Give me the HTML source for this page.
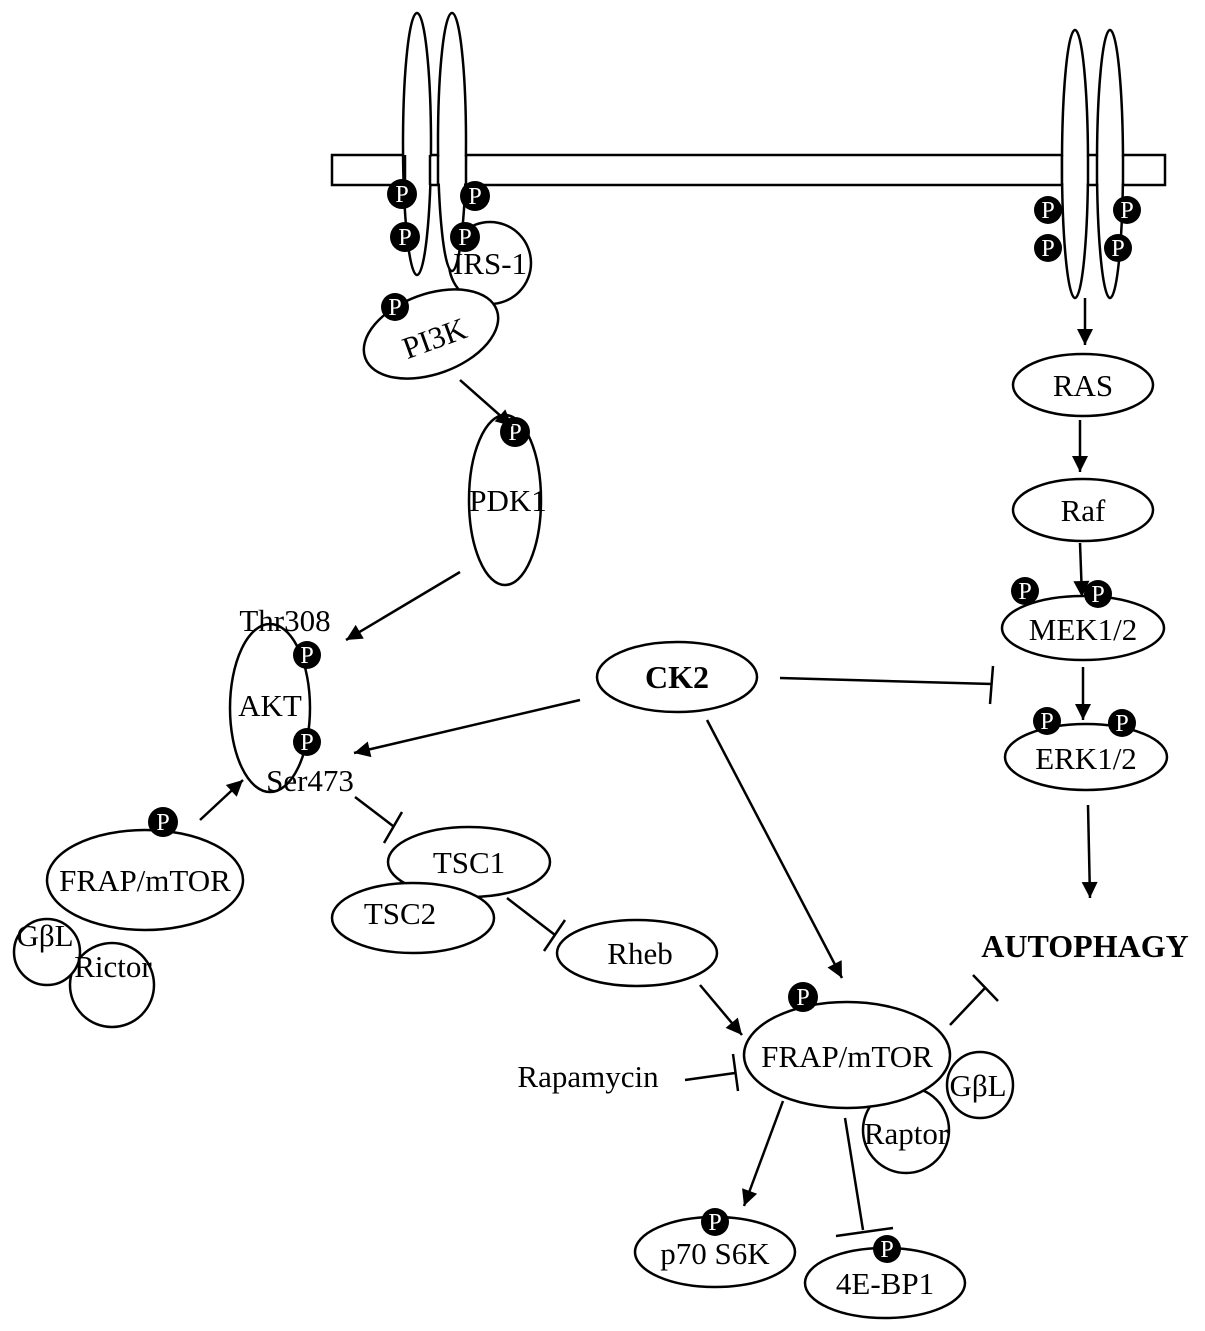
<!DOCTYPE html>
<html><head><meta charset="utf-8"><style>
body{margin:0;background:#fff}
svg{display:block}
text{font-family:"Liberation Serif",serif;font-size:31px;fill:#000;text-anchor:middle}
.b{font-weight:bold;font-size:32px}
.p{fill:#fff;font-size:24px}
</style></head><body>
<svg width="1205" height="1331" viewBox="0 0 1205 1331" xmlns="http://www.w3.org/2000/svg">
<defs>
<marker id="a" viewBox="0 0 10 10" refX="10" refY="5" markerWidth="20" markerHeight="16" orient="auto" markerUnits="userSpaceOnUse">
<path d="M0,0 L10,5 L0,10 z" fill="#000"/></marker>
</defs>
<g fill="#fff" stroke="#000" stroke-width="2.5">
<rect x="332" y="155" width="833" height="30"/>
<ellipse cx="417" cy="144" rx="14" ry="131"/>
<circle cx="490" cy="263" r="41"/>
<ellipse cx="452" cy="142" rx="14" ry="129"/>
<rect x="405" y="156.5" width="60" height="27" stroke="none"/>
<line x1="405" y1="155" x2="405" y2="185"/><line x1="430" y1="155" x2="430" y2="185"/>
<line x1="438" y1="155" x2="438" y2="185"/><line x1="466" y1="155" x2="466" y2="185"/>
<ellipse cx="431" cy="334" rx="70" ry="40" transform="rotate(-20 431 334)"/>
<ellipse cx="505" cy="500" rx="36" ry="85"/>
<ellipse cx="270" cy="708" rx="40" ry="84"/>
<ellipse cx="1075" cy="164" rx="13" ry="134"/>
<ellipse cx="1110" cy="164" rx="13" ry="134"/>
<rect x="1061" y="156.5" width="64" height="27" stroke="none"/>
<line x1="1062" y1="155" x2="1062" y2="185"/><line x1="1088" y1="155" x2="1088" y2="185"/>
<line x1="1097" y1="155" x2="1097" y2="185"/><line x1="1123" y1="155" x2="1123" y2="185"/>
<ellipse cx="1083" cy="385" rx="70" ry="31"/>
<ellipse cx="1083" cy="510" rx="70" ry="31"/>
<ellipse cx="1083" cy="628" rx="81" ry="32"/>
<ellipse cx="1086" cy="757" rx="81" ry="33"/>
<ellipse cx="677" cy="677" rx="80" ry="35"/>
<circle cx="112" cy="985" r="42"/>
<circle cx="47" cy="952" r="33"/>
<ellipse cx="145" cy="880" rx="98" ry="50"/>
<ellipse cx="469" cy="862" rx="81" ry="35"/>
<ellipse cx="413" cy="918" rx="81" ry="35"/>
<ellipse cx="637" cy="953" rx="80" ry="33"/>
<circle cx="906" cy="1130" r="43"/>
<circle cx="980" cy="1085" r="33"/>
<ellipse cx="847" cy="1055" rx="103" ry="53"/>
<ellipse cx="715" cy="1252" rx="80" ry="35"/>
<ellipse cx="885" cy="1283" rx="80" ry="35"/>
</g>
<g fill="#000">
<circle cx="402" cy="194" r="15"/><circle cx="405" cy="237" r="15"/>
<circle cx="475" cy="196" r="15"/><circle cx="465" cy="237" r="15"/>
<circle cx="395" cy="307" r="14"/><circle cx="515" cy="432" r="15"/>
<circle cx="307" cy="655" r="14"/><circle cx="307" cy="742" r="14"/>
<circle cx="163" cy="822" r="15"/>
<circle cx="1048" cy="210" r="14"/><circle cx="1048" cy="248" r="14"/>
<circle cx="1127" cy="210" r="14"/><circle cx="1118" cy="248" r="14"/>
<circle cx="1025" cy="591" r="14"/><circle cx="1098" cy="594" r="14"/>
<circle cx="1047" cy="721" r="14"/><circle cx="1122" cy="723" r="14"/>
<circle cx="803" cy="997" r="15"/>
<circle cx="715" cy="1222" r="14"/><circle cx="887" cy="1249" r="14"/>
</g>
<g>
<text class="p" x="402" y="202">P</text><text class="p" x="405" y="245">P</text>
<text class="p" x="475" y="204">P</text><text class="p" x="465" y="245">P</text>
<text class="p" x="395" y="315">P</text><text class="p" x="515" y="440">P</text>
<text class="p" x="307" y="663">P</text><text class="p" x="307" y="750">P</text>
<text class="p" x="163" y="830">P</text>
<text class="p" x="1048" y="218">P</text><text class="p" x="1048" y="256">P</text>
<text class="p" x="1127" y="218">P</text><text class="p" x="1118" y="256">P</text>
<text class="p" x="1025" y="599">P</text><text class="p" x="1098" y="602">P</text>
<text class="p" x="1047" y="729">P</text><text class="p" x="1122" y="731">P</text>
<text class="p" x="803" y="1005">P</text>
<text class="p" x="715" y="1230">P</text><text class="p" x="887" y="1257">P</text>
</g>
<g stroke="#000" stroke-width="2.5" fill="none">
<line x1="460" y1="380" x2="512" y2="426" marker-end="url(#a)"/>
<line x1="460" y1="572" x2="346" y2="640" marker-end="url(#a)"/>
<line x1="1085" y1="298" x2="1085" y2="345" marker-end="url(#a)"/>
<line x1="1080" y1="420" x2="1080" y2="472" marker-end="url(#a)"/>
<line x1="1080" y1="543" x2="1082" y2="597" marker-end="url(#a)"/>
<line x1="1083" y1="667" x2="1083" y2="720" marker-end="url(#a)"/>
<line x1="1088" y1="805" x2="1090" y2="898" marker-end="url(#a)"/>
<line x1="580" y1="700" x2="354" y2="753" marker-end="url(#a)"/>
<line x1="707" y1="720" x2="842" y2="978" marker-end="url(#a)"/>
<line x1="200" y1="820" x2="243" y2="780" marker-end="url(#a)"/>
<line x1="700" y1="985" x2="742" y2="1035" marker-end="url(#a)"/>
<line x1="783" y1="1101" x2="744" y2="1206" marker-end="url(#a)"/>
<line x1="780" y1="678" x2="992" y2="684"/><line x1="993" y1="666" x2="990" y2="704"/>
<line x1="355" y1="797" x2="393" y2="826"/><line x1="384" y1="843" x2="402" y2="812"/>
<line x1="507" y1="898" x2="555" y2="935"/><line x1="544" y1="951" x2="565" y2="920"/>
<line x1="950" y1="1025" x2="985" y2="988"/><line x1="973" y1="975" x2="998" y2="1001"/>
<line x1="685" y1="1080" x2="735" y2="1073"/><line x1="733" y1="1054" x2="738" y2="1091"/>
<line x1="845" y1="1118" x2="863" y2="1230"/><line x1="836" y1="1236" x2="893" y2="1228"/>
</g>
<text x="490" y="274">IRS-1</text>
<text x="438" y="348" transform="rotate(-20 438 348)">PI3K</text>
<text x="508" y="511">PDK1</text>
<text x="285" y="631">Thr308</text>
<text x="270" y="716">AKT</text>
<text x="310" y="791">Ser473</text>
<text x="1083" y="396">RAS</text>
<text x="1083" y="521">Raf</text>
<text x="1083" y="640">MEK1/2</text>
<text x="1086" y="769">ERK1/2</text>
<text class="b" x="677" y="688">CK2</text>
<text class="b" x="1085" y="957">AUTOPHAGY</text>
<text x="145" y="891">FRAP/mTOR</text>
<text x="45" y="946">GβL</text>
<text x="113" y="977">Rictor</text>
<text x="469" y="873">TSC1</text>
<text x="400" y="924">TSC2</text>
<text x="640" y="964">Rheb</text>
<text x="588" y="1087">Rapamycin</text>
<text x="847" y="1067">FRAP/mTOR</text>
<text x="978" y="1096">GβL</text>
<text x="906" y="1144">Raptor</text>
<text x="715" y="1264">p70 S6K</text>
<text x="885" y="1294">4E-BP1</text>
</svg>
</body></html>
